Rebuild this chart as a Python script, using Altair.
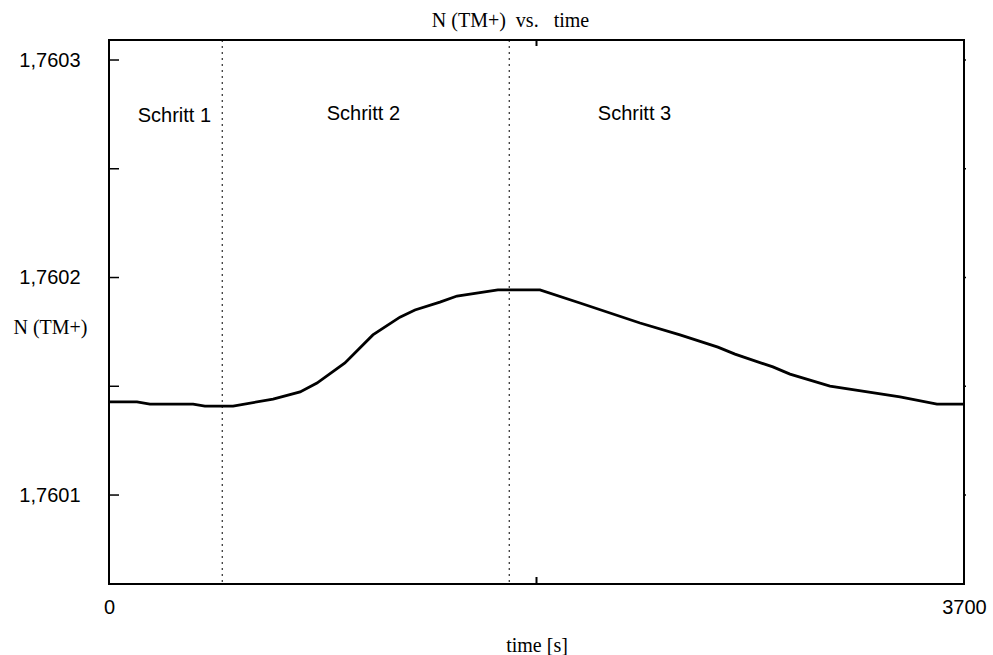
import altair as alt
import pandas as pd

# Series values
time_s = [0, 121, 177, 364, 415, 480, 537, 710, 827, 900, 1021, 1142, 1259, 1324,
          1432, 1506, 1683, 1865, 2038, 2298, 2471, 2635, 2709, 2873, 2947, 3120,
          3423, 3583, 3700]
n_tm = [1.7601428, 1.7601428, 1.7601418, 1.7601418, 1.7601409, 1.7601409, 1.7601409,
        1.7601441, 1.7601474, 1.7601515, 1.7601607, 1.7601736, 1.7601818, 1.7601851,
        1.7601887, 1.7601915, 1.7601943, 1.7601943, 1.7601883, 1.7601791, 1.7601736,
        1.7601680, 1.7601648, 1.7601589, 1.7601556, 1.7601501, 1.7601451, 1.7601418,
        1.7601418]

step_bounds = [490, 1732]
step_labels = ["Schritt 1", "Schritt 2", "Schritt 3"]
step_label_x = [283, 1101, 2274]
step_label_y = [1.7602743, 1.7602754, 1.7602754]

y_major = [1.7601, 1.7602, 1.7603]
y_ticks = [1.7601, 1.76015, 1.7602, 1.76025, 1.7603]
x_labels = [0, 3700]
x_mid_tick = [1850]

y_domain = [1.7600591, 1.7603092]
x_domain = [0, 3700]

W, H = 855, 544

line_df = pd.DataFrame({"t": time_s, "n": n_tm})
bounds_df = pd.DataFrame({"t": step_bounds})
lab_df = pd.DataFrame({"t": step_label_x, "n": step_label_y, "label": step_labels})
yt_df = pd.DataFrame({"n": y_ticks})
xt_df = pd.DataFrame({"t": x_mid_tick})

xs = alt.Scale(domain=x_domain, nice=False, zero=False)
ys = alt.Scale(domain=y_domain, nice=False, zero=False)

x_axis = alt.Axis(values=x_labels, format="d", ticks=False, tickSize=0, domain=False,
                  grid=False, labelFont="Liberation Sans", labelFontSize=20,
                  labelColor="black", labelBaseline="middle", labelPadding=23,
                  labelFlush=False, title="time [s]", titleFont="Liberation Serif",
                  titleFontSize=20, titleFontWeight="normal", titleColor="black",
                  titleBaseline="middle", titleY=61)
y_axis = alt.Axis(values=y_major,
                  labelExpr="replace(format(datum.value, '.4f'), '.', ',')",
                  ticks=False, tickSize=0, domain=False, grid=False,
                  labelFont="Liberation Sans", labelFontSize=20, labelColor="black",
                  labelPadding=29, labelBaseline="middle",
                  title="N (TM+)", titleFont="Liberation Serif", titleFontSize=20,
                  titleFontWeight="normal", titleColor="black", titleAngle=0,
                  titleAlign="center", titleBaseline="middle", titleX=-59, titleY=287)

line = alt.Chart(line_df).mark_line(color="black", strokeWidth=2.8).encode(
    x=alt.X("t:Q", scale=xs, axis=x_axis),
    y=alt.Y("n:Q", scale=ys, axis=y_axis),
)

bounds = alt.Chart(bounds_df).mark_rule(color="black", strokeWidth=1,
                                        strokeDash=[2, 4]).encode(
    x=alt.X("t:Q", scale=xs)
)

labels = alt.Chart(lab_df).mark_text(font="Liberation Sans", fontSize=20,
                                     color="black", align="center",
                                     baseline="middle").encode(
    x=alt.X("t:Q", scale=xs), y=alt.Y("n:Q", scale=ys), text="label:N"
)

left_ticks = alt.Chart(yt_df).mark_rule(color="black", strokeWidth=1.5).encode(
    y=alt.Y("n:Q", scale=ys), x=alt.value(0), x2=alt.value(10)
)
right_ticks = alt.Chart(yt_df).mark_rule(color="black", strokeWidth=1.5).encode(
    y=alt.Y("n:Q", scale=ys), x=alt.value(W), x2=alt.value(W + 2)
)
top_tick = alt.Chart(xt_df).mark_rule(color="black", strokeWidth=2).encode(
    x=alt.X("t:Q", scale=xs), y=alt.value(0), y2=alt.value(6)
)
bottom_tick = alt.Chart(xt_df).mark_rule(color="black", strokeWidth=2).encode(
    x=alt.X("t:Q", scale=xs), y=alt.value(H - 7), y2=alt.value(H)
)

chart = alt.layer(bounds, line, labels, left_ticks, right_ticks, top_tick,
                  bottom_tick).properties(
    width=W, height=H,
    title=alt.TitleParams("N (TM+)\u00a0 vs.\u00a0\u00a0 time", font="Liberation Serif",
                          fontSize=20, fontWeight="normal", color="black",
                          anchor="middle", dx=-26, dy=10, offset=8, baseline="middle"),
    autosize=alt.AutoSizeParams(type="none"),
    padding={"left": 109, "top": 40, "right": 29, "bottom": 71},
    background="white",
).configure_view(stroke="black", strokeWidth=2)

chart.save("out.html", embed_options={"renderer": "svg", "actions": False})
